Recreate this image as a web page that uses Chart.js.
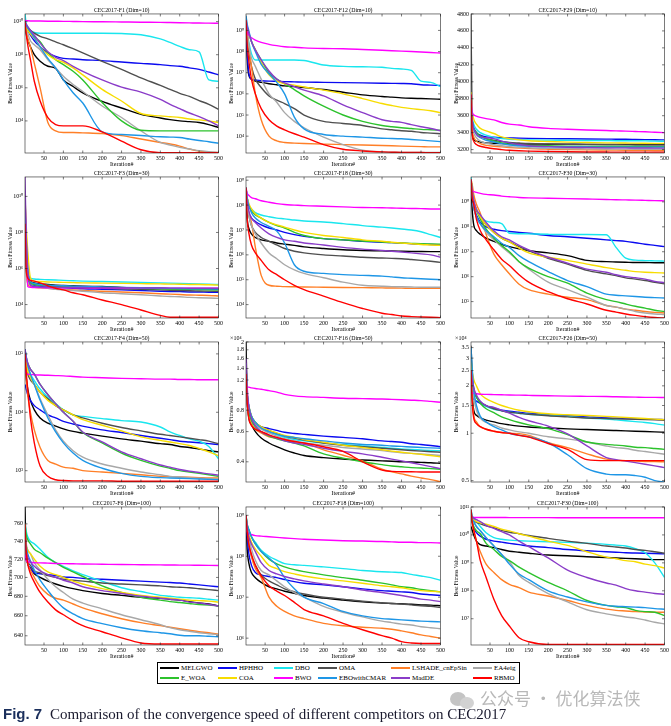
<!DOCTYPE html>
<html>
<head>
<meta charset="utf-8">
<script src="https://cdn.jsdelivr.net/npm/chart.js@4.4.0/dist/chart.umd.min.js"></script>
<style>
  body { margin: 0; background: #fff; width: 671px; height: 726px; position: relative; overflow: hidden; }
  canvas.panel { position: absolute; }
  #legend { position: absolute; left: 157px; top: 662px; width: 363px; height: 22px; border: 0.8px solid #000; box-sizing: border-box; background: #fff;
            font-family: 'Liberation Serif', 'Times New Roman', serif; font-size: 7px; color: #000; }
  .lg-item { position: absolute; height: 10px; line-height: 10px; white-space: nowrap; }
  .lg-line { position: absolute; top: 4px; width: 19px; height: 2px; }
  .lg-text { position: absolute; left: 21px; top: 0; }
  #mark { position: absolute; left: 450px; top: 687px; height: 22px; color: #b8b8b8; font-family: 'Noto Sans CJK SC', sans-serif; font-size: 17px; line-height: 22px; white-space: nowrap; }
  #mark .ico { display: inline-block; position: relative; width: 26px; height: 20px; vertical-align: middle; margin-right: 4px; }
  #mark .ico span { position: absolute; border-radius: 50%; background: #c4c4c4; }
  #caption { position: absolute; left: 3px; top: 705px; white-space: nowrap; font-family: 'Liberation Serif', 'Times New Roman', serif; font-size: 15px; color: #1a1a2e; }
  #caption b { font-family: 'Liberation Sans', Arial, sans-serif; font-weight: bold; color: #1b2f5c; margin-right: 4px; }
</style>
</head>
<body>
<div id="charts"></div>
<div id="legend"></div>
<div id="mark"><span class="ico"><span style="left:0;top:2px;width:16px;height:14px"></span><span style="left:10px;top:7px;width:14px;height:12px;background:#d2d2d2"></span></span>公众号 · 优化算法侠</div>
<div id="caption"><b>Fig. 7</b> Comparison of the convergence speed of different competitors on CEC2017</div>
<script>
// iteration samples
const iterations = [1, 4, 8, 15, 25, 40, 60, 80, 100, 125, 150, 200, 250, 300, 350, 375, 400, 425, 450, 475, 500];
const xTicks = [50, 100, 150, 200, 250, 300, 350, 400, 450, 500];

const algorithms = ['MELGWO', 'HPHHO', 'DBO', 'OMA', 'LSHADE_cnEpSin', 'EA4eig',
                    'E_WOA', 'COA', 'BWO', 'EBOwithCMAR', 'MadDE', 'RBMO'];
const colors = ['#000000', '#0a0af0', '#19e6ee', '#4f4f4f', '#ff7f27', '#a8a8a8',
                '#2cc22c', '#f7dc00', '#ff00ff', '#1e96e6', '#8a3cc8', '#ff0000'];

// CEC2017-F1 (Dim=10)
const f1d10 = [
  [1e10, 2e9, 8e8, 3e8, 1e8, 4e7, 2e7, 1.5e7, 3e6, 1.2e6, 5e5, 1.5e5, 6e4, 2.5e4, 1.5e4, 1.2e4, 1e4, 9e3, 8e3, 6e3, 4e3],
  [1e10, 5e9, 3e9, 1.5e9, 7e8, 3e8, 1.3e8, 8e7, 6e7, 5.5e7, 5e7, 4.4e7, 3.6e7, 3e7, 2.5e7, 2.2e7, 2e7, 1.6e7, 1.3e7, 9e6, 6e6],
  [2.9e10, 8e9, 5e9, 3e9, 2.2e9, 2e9, 2e9, 2e9, 2e9, 2e9, 2e9, 2e9, 1.9e9, 1.6e9, 9e8, 5.5e8, 3.2e8, 2e8, 1.5e8, 3e6, 2.5e6],
  [1e10, 6e9, 4e9, 3e9, 2e9, 1.3e9, 9e8, 6e8, 4e8, 2.3e8, 1.3e8, 4e7, 1.3e7, 4e6, 1.4e6, 8e5, 4.6e5, 3e5, 1.7e5, 1e5, 5e4],
  [1e10, 3e9, 1e9, 3e8, 3e7, 1e6, 8e3, 2.5e3, 2e3, 2e3, 1.9e3, 1.7e3, 1.3e3, 8e2, 5e2, 4e2, 3e2, 2e2, 1.5e2, 1.3e2, 1.2e2],
  [1e10, 5e9, 2e9, 7e8, 4e8, 2e8, 5e7, 1.6e7, 5e6, 1.6e6, 6e5, 8e4, 1.6e4, 2.5e3, 5e2, 3.5e2, 2.5e2, 2e2, 1.6e2, 1.4e2, 1.25e2],
  [1e10, 6e9, 3.5e9, 2e9, 1.2e9, 6e8, 1.3e8, 5e7, 2.5e7, 1e7, 3e6, 1.3e5, 1e4, 2.7e3, 2.5e3, 2.5e3, 2.5e3, 2.5e3, 2.5e3, 2.5e3, 2.5e3],
  [1e10, 5e9, 3e9, 1.8e9, 1e9, 3e8, 1e8, 5e7, 3.5e7, 1.6e7, 6e6, 8e5, 1.6e5, 2.8e4, 2e4, 1.8e4, 1.6e4, 1.3e4, 1.15e4, 1e4, 8e3],
  [1.2e10, 1.15e10, 1.12e10, 1.1e10, 1.1e10, 1.08e10, 1.06e10, 1.05e10, 1.04e10, 1.02e10, 1e10, 9.8e9, 9.5e9, 9.2e9, 9e9, 8.8e9, 8.6e9, 8.4e9, 8.2e9, 8.1e9, 8e9],
  [1e10, 6e9, 4e9, 2.5e9, 1e9, 3e8, 6e7, 1.6e7, 3e6, 5e5, 1.2e5, 2.2e3, 1.5e3, 1.3e3, 1.1e3, 1.05e3, 1e3, 8e2, 6.5e2, 5.5e2, 4.5e2],
  [1e10, 7e9, 5e9, 3e9, 1.5e9, 5e8, 1.5e8, 7e7, 4.4e7, 2e7, 1e7, 3e6, 1.1e6, 5.5e5, 2e5, 1e5, 5.5e4, 3e4, 1.8e4, 1e4, 5e3],
  [1e10, 2e9, 4e8, 5e7, 2.5e6, 1.6e5, 1.6e4, 6e3, 5e3, 5e3, 5e3, 2.2e3, 6e2, 1.8e2, 1.2e2, 1.2e2, 1.2e2, 1.2e2, 1.2e2, 1.2e2, 1.2e2]
];

// CEC2017-F12 (Dim=10)
const f12d10 = [
  [2e9, 5e7, 8e6, 5e6, 4e6, 3.5e6, 3e6, 2.7e6, 2.4e6, 2.2e6, 2e6, 1.6e6, 1.2e6, 9e5, 7.5e5, 7e5, 6.5e5, 6.2e5, 6e5, 5.8e5, 5.6e5],
  [1e9, 1e8, 1e7, 5e6, 4.5e6, 4.2e6, 4e6, 3.9e6, 3.8e6, 3.7e6, 3.6e6, 3.5e6, 3.4e6, 3.3e6, 3.2e6, 3.15e6, 3.1e6, 3e6, 2.7e6, 2.6e6, 2.5e6],
  [3e9, 1e9, 3e8, 8e7, 4e7, 4e7, 4e7, 4e7, 4e7, 4e7, 3.8e7, 2.3e7, 2e7, 1.9e7, 1.8e7, 1.6e7, 1.5e7, 1.3e7, 4e6, 3.5e6, 2.2e6],
  [2e9, 5e8, 1e8, 2e7, 5e6, 2e6, 8e5, 5e5, 3.5e5, 2e5, 1e5, 5e4, 4e4, 3.2e4, 2.2e4, 2e4, 1.8e4, 1.7e4, 1.5e4, 1.4e4, 1.3e4],
  [3e9, 1e9, 2e8, 2e7, 1e6, 6e4, 1e4, 6e3, 5e3, 4.7e3, 4.5e3, 4.2e3, 4e3, 3.8e3, 3.6e3, 3.5e3, 3.4e3, 3.3e3, 3.2e3, 3.1e3, 3.1e3],
  [5e9, 1e9, 2e8, 5e7, 2e7, 5e6, 1e6, 4e5, 1.3e5, 5e4, 2.5e4, 9e3, 4e3, 2.2e3, 1.8e3, 1.75e3, 1.7e3, 1.7e3, 1.7e3, 1.7e3, 1.7e3],
  [3e9, 1.5e9, 8e8, 3e8, 1.2e8, 4e7, 1e7, 5e6, 3e6, 1.6e6, 8e5, 2.6e5, 1e5, 5e4, 3.2e4, 2.8e4, 2.5e4, 2.3e4, 2.1e4, 2e4, 1.9e4],
  [3e9, 1.5e9, 7e8, 3e8, 1.2e8, 3e7, 8e6, 4e6, 3e6, 2.6e6, 2.1e6, 1.5e6, 1e6, 6e5, 3.5e5, 2.8e5, 2.3e5, 2e5, 1.8e5, 1.6e5, 1.3e5],
  [1.5e9, 8e8, 6e8, 4.5e8, 3.5e8, 2.7e8, 2.2e8, 1.9e8, 1.7e8, 1.6e8, 1.5e8, 1.4e8, 1.35e8, 1.25e8, 1.15e8, 1.1e8, 1.05e8, 1e8, 9.5e7, 9e7, 8.5e7],
  [5e9, 2e9, 1e9, 3e8, 1e8, 2.5e7, 9e6, 3.5e6, 1e6, 8e4, 2.2e4, 1.2e4, 1e4, 9e3, 8e3, 7.8e3, 7.5e3, 7e3, 6.5e3, 6e3, 5.5e3],
  [3e9, 1.5e9, 8e8, 3e8, 1.2e8, 4e7, 1.2e7, 5e6, 3.3e6, 2.2e6, 1.5e6, 8e5, 3e5, 1.3e5, 6e4, 5e4, 4.5e4, 3.5e4, 2.8e4, 2.3e4, 1.8e4],
  [3e9, 2e8, 4e7, 5e6, 1e6, 2e5, 6e4, 3e4, 2e4, 1.3e4, 9e3, 4e3, 2.4e3, 2e3, 1.8e3, 1.75e3, 1.7e3, 1.7e3, 1.7e3, 1.65e3, 1.65e3]
];

// CEC2017-F29 (Dim=10)
const f29d10 = [
  [3750, 3400, 3320, 3300, 3290, 3280, 3275, 3270, 3268, 3266, 3265, 3264, 3263, 3262, 3262, 3262, 3262, 3262, 3262, 3262, 3262],
  [3750, 3550, 3450, 3400, 3370, 3350, 3345, 3340, 3338, 3335, 3333, 3330, 3328, 3326, 3324, 3323, 3322, 3320, 3318, 3316, 3315],
  [3800, 3600, 3500, 3440, 3400, 3370, 3345, 3330, 3322, 3318, 3315, 3312, 3310, 3308, 3306, 3305, 3305, 3304, 3303, 3300, 3298],
  [4800, 3550, 3450, 3400, 3360, 3330, 3310, 3295, 3285, 3278, 3272, 3266, 3262, 3260, 3258, 3257, 3256, 3255, 3255, 3254, 3254],
  [3780, 3450, 3350, 3300, 3270, 3250, 3240, 3232, 3225, 3218, 3212, 3205, 3200, 3197, 3195, 3194, 3193, 3192, 3191, 3190, 3190],
  [3780, 3500, 3400, 3340, 3300, 3275, 3258, 3245, 3235, 3228, 3222, 3215, 3211, 3209, 3207, 3206, 3206, 3205, 3205, 3204, 3204],
  [3800, 3550, 3450, 3400, 3360, 3330, 3300, 3280, 3265, 3255, 3250, 3245, 3240, 3238, 3237, 3236, 3236, 3236, 3236, 3235, 3235],
  [3880, 3650, 3560, 3500, 3450, 3420, 3390, 3350, 3330, 3315, 3305, 3295, 3288, 3284, 3280, 3279, 3278, 3276, 3275, 3274, 3273],
  [3850, 3650, 3610, 3595, 3580, 3565, 3550, 3520, 3500, 3490, 3470, 3450, 3440, 3432, 3425, 3421, 3418, 3414, 3410, 3405, 3400],
  [3800, 3550, 3450, 3380, 3340, 3310, 3290, 3270, 3255, 3245, 3238, 3233, 3231, 3230, 3229, 3229, 3229, 3229, 3229, 3229, 3229],
  [3750, 3550, 3450, 3380, 3350, 3340, 3330, 3300, 3280, 3260, 3245, 3235, 3228, 3224, 3221, 3220, 3220, 3219, 3219, 3218, 3218],
  [3850, 3400, 3300, 3260, 3240, 3225, 3210, 3200, 3192, 3186, 3182, 3177, 3174, 3172, 3171, 3170, 3170, 3170, 3170, 3170, 3170]
];

// CEC2017-F3 (Dim=30)
const f3d30 = [
  [3e9, 3e6, 4e5, 2e5, 1.6e5, 1.4e5, 1.3e5, 1.2e5, 1.15e5, 1.1e5, 1.05e5, 1e5, 9e4, 8.5e4, 8e4, 7.7e4, 7.5e4, 7.3e4, 7.2e4, 7e4, 7e4],
  [5e9, 2e6, 3e5, 1.3e5, 1.1e5, 1e5, 9.5e4, 9e4, 8.5e4, 8e4, 7.5e4, 7e4, 6.5e4, 6e4, 5.5e4, 5.3e4, 5.2e4, 5e4, 5e4, 4.8e4, 4.8e4],
  [1e10, 1e8, 1e6, 3e5, 2.6e5, 2.5e5, 2.4e5, 2.3e5, 2.2e5, 2.1e5, 2e5, 1.9e5, 1.8e5, 1.7e5, 1.6e5, 1.55e5, 1.5e5, 1.45e5, 1.4e5, 1.35e5, 1.3e5],
  [5e9, 1e7, 5e5, 1.8e5, 1.4e5, 1.2e5, 1.1e5, 1e5, 9.5e4, 9e4, 8.5e4, 8e4, 7.5e4, 7e4, 6.5e4, 6.2e4, 6e4, 5.8e4, 5.7e4, 5.6e4, 5.5e4],
  [3e9, 1e6, 1.5e5, 1e5, 9e4, 8.5e4, 8e4, 7.5e4, 7e4, 6.5e4, 6e4, 5.5e4, 5e4, 4.5e4, 4e4, 3.8e4, 3.6e4, 3.4e4, 3.3e4, 3.2e4, 3e4],
  [3e9, 2e6, 2e5, 1.2e5, 1e5, 9e4, 8e4, 7e4, 6.5e4, 6e4, 5.5e4, 4.5e4, 4e4, 3.5e4, 3e4, 2.8e4, 2.7e4, 2.5e4, 2.4e4, 2.3e4, 2.2e4],
  [5e9, 5e6, 4e5, 1.6e5, 1.3e5, 1.2e5, 1.15e5, 1.1e5, 1.05e5, 1e5, 9.5e4, 9e4, 8.5e4, 8e4, 7.5e4, 7.3e4, 7.2e4, 7e4, 6.8e4, 6.7e4, 6.5e4],
  [1e10, 3e8, 1e7, 3e5, 2e5, 1.9e5, 1.8e5, 1.75e5, 1.7e5, 1.65e5, 1.6e5, 1.55e5, 1.5e5, 1.45e5, 1.4e5, 1.37e5, 1.35e5, 1.3e5, 1.3e5, 1.25e5, 1.2e5],
  [1e10, 5e7, 1e5, 9e4, 8.8e4, 8.7e4, 8.6e4, 8.5e4, 8.5e4, 8.4e4, 8.4e4, 8.3e4, 8.3e4, 8.2e4, 8.2e4, 8.1e4, 8.1e4, 8.1e4, 8e4, 8e4, 8e4],
  [2e9, 5e7, 1e6, 2e5, 1.5e5, 1.3e5, 1.2e5, 1.15e5, 1.1e5, 1.05e5, 1e5, 9.5e4, 9e4, 8.5e4, 8e4, 7.9e4, 7.8e4, 7.6e4, 7.5e4, 7.4e4, 7.3e4],
  [1.2e11, 1e8, 1e6, 1.2e5, 1e5, 9.5e4, 9.3e4, 9.1e4, 9e4, 8.9e4, 8.8e4, 8.6e4, 8.5e4, 8.4e4, 8.3e4, 8.2e4, 8.2e4, 8.1e4, 8.1e4, 8e4, 8e4],
  [3e8, 1e6, 3e5, 2.2e5, 2e5, 1.6e5, 1.1e5, 8e4, 6.5e4, 4.5e4, 3.5e4, 1.8e4, 1e4, 5e3, 2.5e3, 2e3, 2e3, 2e3, 2e3, 2e3, 2e3]
];

// CEC2017-F18 (Dim=30)
const f18d30 = [
  [5e8, 3e7, 1.2e7, 7e6, 5e6, 4e6, 3.5e6, 3e6, 2.7e6, 2.4e6, 2.1e6, 1.8e6, 1.6e6, 1.5e6, 1.45e6, 1.42e6, 1.4e6, 1.38e6, 1.36e6, 1.35e6, 1.35e6],
  [5e8, 1e8, 5e7, 3e7, 2.2e7, 1.6e7, 1.2e7, 1e7, 8e6, 6.5e6, 5.5e6, 4.5e6, 4e6, 3.5e6, 3.2e6, 3.1e6, 3e6, 2.8e6, 2.7e6, 2.6e6, 2.5e6],
  [5e8, 2e8, 1e8, 7e7, 5e7, 4e7, 3.4e7, 3e7, 2.8e7, 2.5e7, 2.3e7, 2.1e7, 1.8e7, 1.5e7, 1.3e7, 1.2e7, 1.1e7, 1e7, 8.5e6, 6.5e6, 5e6],
  [5e8, 1e8, 4e7, 1.5e7, 8e6, 5e6, 3.5e6, 2.5e6, 1.8e6, 1.4e6, 1.2e6, 1e6, 9e5, 8e5, 7.5e5, 7.2e5, 7e5, 6.5e5, 6e5, 5.5e5, 5e5],
  [5e8, 2e8, 5e7, 2e7, 2e6, 1.5e5, 6e4, 5.5e4, 5.3e4, 5.2e4, 5.1e4, 5e4, 4.9e4, 4.8e4, 4.7e4, 4.65e4, 4.6e4, 4.5e4, 4.5e4, 4.5e4, 4.5e4],
  [5e8, 1e8, 4e7, 1.5e7, 7e6, 3e6, 1.2e6, 7e5, 4e5, 2.5e5, 1.8e5, 1.2e5, 8e4, 6e4, 5.5e4, 5.3e4, 5.2e4, 5.1e4, 5e4, 5e4, 5e4],
  [5e8, 2e8, 1e8, 6e7, 4e7, 3e7, 2e7, 1.5e7, 1.2e7, 8e6, 6e6, 4.5e6, 4e6, 3.6e6, 3.3e6, 3.1e6, 3e6, 2.9e6, 2.8e6, 2.75e6, 2.7e6],
  [5e8, 2e8, 1.2e8, 7e7, 4.5e7, 3e7, 2e7, 1.6e7, 1.3e7, 1e7, 8e6, 6e6, 5e6, 4e6, 3.5e6, 3.2e6, 3e6, 2.8e6, 2.6e6, 2.5e6, 2.4e6],
  [5e8, 3e8, 2.5e8, 2e8, 1.8e8, 1.5e8, 1.3e8, 1.15e8, 1.05e8, 1e8, 9.5e7, 9e7, 8.5e7, 8e7, 7.8e7, 7.6e7, 7.5e7, 7.3e7, 7.2e7, 7e7, 7e7],
  [5e8, 2e8, 1e8, 5e7, 3e7, 2e7, 1.4e7, 9e6, 3e6, 4e5, 2.2e5, 1.8e5, 1.6e5, 1.5e5, 1.4e5, 1.3e5, 1.2e5, 1.15e5, 1.1e5, 1.05e5, 1e5],
  [5e8, 1.5e8, 6e7, 3e7, 2e7, 1.2e7, 7e6, 5e6, 4e6, 3.5e6, 3e6, 2.5e6, 2e6, 1.7e6, 1.5e6, 1.4e6, 1.3e6, 1.2e6, 1.1e6, 1e6, 8e5],
  [5e8, 3e7, 8e6, 2.5e6, 1.2e6, 6e5, 2.5e5, 1.6e5, 1e5, 6e4, 4e4, 2.2e4, 1.2e4, 7e3, 4.5e3, 4e3, 3.5e3, 3.3e3, 3.2e3, 3.1e3, 3e3]
];

// CEC2017-F30 (Dim=30)
const f30d30 = [
  [5e9, 5e8, 1.2e8, 7e7, 5e7, 3.5e7, 2.6e7, 2e7, 1.6e7, 1.3e7, 1.1e7, 9e6, 7e6, 4.5e6, 4e6, 3.9e6, 3.8e6, 3.7e6, 3.7e6, 3.6e6, 3.6e6],
  [8e9, 2e9, 6e8, 3e8, 1.5e8, 1e8, 8e7, 7e7, 6.5e7, 6e7, 5.5e7, 4.5e7, 4e7, 3.5e7, 3e7, 2.8e7, 2.6e7, 2.3e7, 2e7, 1.8e7, 1.6e7],
  [1e10, 3e9, 1e9, 5e8, 2.5e8, 1.7e8, 1.5e8, 1.35e8, 5.5e7, 5.3e7, 5.2e7, 5e7, 4.9e7, 4.9e7, 4.8e7, 1.5e7, 5.5e6, 4.6e6, 4.4e6, 4.3e6, 4.2e6],
  [8e9, 3e9, 1.1e9, 4.5e8, 2.5e8, 1.2e8, 6e7, 3.5e7, 2.5e7, 1.6e7, 1.1e7, 5.5e6, 3.2e6, 1.8e6, 1.3e6, 1.1e6, 9e5, 8e5, 7e5, 6e5, 5.2e5],
  [8e9, 5e9, 2e9, 8e8, 3.5e8, 5e7, 8e6, 3e6, 1.3e6, 5e5, 3e5, 2e5, 1.5e5, 1.2e5, 7e4, 6e4, 5e4, 4.5e4, 4e4, 3.7e4, 3.5e4],
  [8e9, 2e9, 6e8, 2.5e8, 1.3e8, 6e7, 3e7, 1.6e7, 9e6, 4e6, 2e6, 6e5, 3e5, 1.5e5, 7e4, 6e4, 5e4, 4e4, 3.5e4, 3.2e4, 3e4],
  [8e9, 3e9, 1e9, 5e8, 2e8, 8e7, 3.5e7, 1.8e7, 1e7, 4e6, 2.2e6, 1e6, 5.5e5, 2.2e5, 1.2e5, 1e5, 8e4, 6.5e4, 5.5e4, 4.5e4, 4e4],
  [8e9, 3e9, 1e9, 5e8, 2.5e8, 1.2e8, 6e7, 3.5e7, 2.5e7, 1.4e7, 9e6, 6e6, 4.5e6, 3.2e6, 2.3e6, 2e6, 1.8e6, 1.6e6, 1.5e6, 1.45e6, 1.4e6],
  [3e9, 2.8e9, 2.6e9, 2.4e9, 2.2e9, 2e9, 1.9e9, 1.7e9, 1.6e9, 1.5e9, 1.45e9, 1.4e9, 1.35e9, 1.3e9, 1.25e9, 1.22e9, 1.2e9, 1.18e9, 1.15e9, 1.12e9, 1.1e9],
  [8e9, 2e9, 6e8, 2.5e8, 1.3e8, 7e7, 4e7, 2.2e7, 1.5e7, 7e6, 4e6, 1.6e6, 7e5, 4e5, 2e5, 1.8e5, 1.7e5, 1.6e5, 1.5e5, 1.45e5, 1.4e5],
  [8e9, 3e9, 1.2e9, 5e8, 3e8, 1.5e8, 7e7, 4e7, 3e7, 1.8e7, 1.2e7, 6e6, 3.5e6, 2e6, 1.5e6, 1.2e6, 1e6, 9e5, 8e5, 6.5e5, 5.8e5],
  [8e9, 1.5e9, 8e8, 2e8, 7e7, 3e7, 1.2e7, 5e6, 2.8e6, 1.2e6, 6e5, 2.5e5, 1.3e5, 8e4, 4.5e4, 3.8e4, 3.2e4, 2.8e4, 2.5e4, 2.3e4, 2.2e4]
];

// CEC2017-F4 (Dim=50)
const f4d50 = [
  [8e4, 4e4, 2.5e4, 1.6e4, 1.1e4, 8e3, 6.5e3, 5.8e3, 5.2e3, 4.7e3, 4.4e3, 3.9e3, 3.5e3, 3.2e3, 2.9e3, 2.8e3, 2.6e3, 2.5e3, 2.35e3, 2.2e3, 2.1e3],
  [3e4, 2.5e4, 2e4, 1.6e4, 1.3e4, 1.1e4, 9e3, 8e3, 7e3, 6.3e3, 5.8e3, 5e3, 4.5e3, 4e3, 3.6e3, 3.4e3, 3.2e3, 3.1e3, 3e3, 2.9e3, 2.8e3],
  [1.2e5, 8e4, 6e4, 4.5e4, 3.5e4, 2.5e4, 1.8e4, 1.4e4, 1.1e4, 9e3, 8.5e3, 7.8e3, 7.2e3, 6.8e3, 5.6e3, 4.6e3, 4e3, 3.5e3, 3.2e3, 2.6e3, 1.6e3],
  [1e5, 6e4, 4.5e4, 3.6e4, 3e4, 2.2e4, 1.7e4, 1.3e4, 1.1e4, 9e3, 8e3, 6.5e3, 5.5e3, 4.8e3, 4.2e3, 4e3, 3.8e3, 3.6e3, 3.4e3, 3.2e3, 2.9e3],
  [8e4, 4e4, 2e4, 1e4, 5e3, 2.5e3, 1.5e3, 1.3e3, 1.15e3, 1.1e3, 1e3, 9.5e2, 9e2, 8.5e2, 8e2, 7.9e2, 7.8e2, 7.7e2, 7.6e2, 7.5e2, 7.5e2],
  [1.2e5, 8e4, 6e4, 4e4, 3e4, 1.7e4, 9e3, 5e3, 3.2e3, 2.2e3, 1.7e3, 1.3e3, 1.1e3, 9.5e2, 8.5e2, 8e2, 7.8e2, 7.6e2, 7.4e2, 7.3e2, 7.2e2],
  [1.2e5, 9e4, 7e4, 5.5e4, 4.5e4, 3e4, 2e4, 1.4e4, 1e4, 7e3, 4.5e3, 3e3, 2e3, 1.5e3, 1.2e3, 1.1e3, 1e3, 9.5e2, 9e2, 8.5e2, 8e2],
  [1e5, 7e4, 5e4, 4e4, 3e4, 2.2e4, 1.6e4, 1.3e4, 1.1e4, 9e3, 7.5e3, 6e3, 4.8e3, 3.8e3, 3.3e3, 3.1e3, 2.9e3, 2.7e3, 2.4e3, 2.1e3, 1.8e3],
  [5.5e4, 4.6e4, 4.5e4, 4.45e4, 4.4e4, 4.35e4, 4.3e4, 4.25e4, 4.2e4, 4.1e4, 4e4, 3.9e4, 3.8e4, 3.75e4, 3.7e4, 3.7e4, 3.65e4, 3.65e4, 3.6e4, 3.6e4, 3.6e4],
  [1.2e5, 9e4, 6.5e4, 4.5e4, 3e4, 1.6e4, 8e3, 4.6e3, 3e3, 2e3, 1.5e3, 1.1e3, 9e2, 8e2, 7.6e2, 7.5e2, 7.4e2, 7.3e2, 7.2e2, 7.1e2, 7e2],
  [1.2e5, 9e4, 7e4, 5.5e4, 4.5e4, 3e4, 2e4, 1.4e4, 1e4, 7e3, 4.6e3, 3.1e3, 2.1e3, 1.6e3, 1.25e3, 1.15e3, 1.05e3, 9.8e2, 9.3e2, 8.8e2, 8.4e2],
  [1e5, 5e4, 2.5e4, 8e3, 3e3, 1.2e3, 8e2, 7e2, 6.8e2, 6.7e2, 6.7e2, 6.7e2, 6.6e2, 6.6e2, 6.6e2, 6.6e2, 6.6e2, 6.6e2, 6.6e2, 6.6e2, 6.6e2]
];

// CEC2017-F16 (Dim=50)
const f16d50 = [
  [20000, 9500, 7300, 6600, 6000, 5500, 5150, 4900, 4700, 4500, 4350, 4230, 4150, 4100, 4050, 4030, 4000, 3990, 3970, 3950, 3920],
  [14000, 9000, 7800, 7000, 6600, 6400, 6250, 6100, 5950, 5850, 5780, 5650, 5550, 5450, 5300, 5250, 5200, 5100, 5050, 4980, 4900],
  [14000, 10000, 8500, 7300, 6700, 6300, 6000, 5750, 5550, 5400, 5300, 5150, 5050, 4950, 4850, 4800, 4760, 4720, 4690, 4660, 4640],
  [15000, 10000, 8500, 7400, 6800, 6400, 6100, 5850, 5650, 5500, 5350, 5150, 5000, 4900, 4800, 4750, 4700, 4660, 4620, 4580, 4550],
  [14000, 9000, 7500, 6700, 6200, 5900, 5600, 5500, 5380, 5250, 5140, 4700, 4370, 4050, 3620, 3500, 3400, 3300, 3220, 3150, 3060],
  [15000, 10000, 8300, 7200, 6600, 6200, 5900, 5650, 5450, 5300, 5150, 5000, 4850, 4750, 4650, 4580, 4520, 4480, 4440, 4400, 4360],
  [15000, 10000, 8000, 7000, 6400, 6000, 5650, 5450, 5300, 5150, 4950, 4450, 4200, 4000, 3850, 3780, 3740, 3700, 3680, 3650, 3620],
  [14000, 10000, 8500, 7400, 6800, 6400, 6100, 5900, 5700, 5550, 5400, 5200, 5000, 4850, 4700, 4620, 4550, 4480, 4420, 4350, 4280],
  [11000, 10900, 10900, 10800, 10700, 10600, 10400, 10200, 9900, 9700, 9600, 9500, 9400, 9350, 9300, 9250, 9200, 9150, 9100, 9000, 8900],
  [15000, 10000, 8500, 7400, 6800, 6300, 6000, 5800, 5650, 5550, 5450, 5300, 5150, 5050, 5000, 4950, 4920, 4880, 4850, 4820, 4800],
  [16000, 11000, 8500, 7200, 6500, 6000, 5700, 5500, 5300, 5150, 5050, 4800, 4600, 4450, 4250, 4150, 4050, 3950, 3850, 3750, 3650],
  [13000, 9000, 7200, 6500, 6200, 6000, 5750, 5550, 5400, 5250, 5150, 4900, 4600, 4000, 3580, 3520, 3500, 3500, 3490, 3490, 3490]
];

// CEC2017-F26 (Dim=50)
const f26d50 = [
  [28000, 18000, 14000, 13000, 12500, 12100, 11800, 11500, 11300, 11100, 10950, 10800, 10650, 10550, 10450, 10400, 10350, 10300, 10250, 10200, 10150],
  [22000, 18000, 16500, 16000, 15500, 14900, 14400, 14000, 13800, 13600, 13400, 13100, 12900, 12700, 12500, 12450, 12400, 12350, 12300, 12250, 12200],
  [30000, 24000, 19000, 17000, 15700, 14800, 14200, 13900, 13600, 13400, 13200, 13000, 12800, 12500, 12300, 12150, 12000, 11850, 11700, 11500, 11250],
  [36000, 25000, 19000, 17000, 15800, 15000, 14300, 13900, 13600, 13400, 13200, 12900, 12700, 12500, 12400, 12350, 12300, 12250, 12200, 12150, 12100],
  [25000, 17000, 13000, 11800, 11000, 10600, 10300, 10100, 10000, 9950, 9700, 8700, 8100, 7400, 6850, 6750, 6700, 6650, 6620, 6600, 6580],
  [28000, 22000, 17000, 14000, 12500, 11700, 11300, 10800, 10500, 10200, 10000, 9500, 9200, 8800, 8300, 8100, 8000, 7800, 7650, 7500, 7350],
  [25000, 21000, 19000, 17000, 15500, 14300, 13500, 12700, 12200, 11700, 11300, 10700, 9800, 8800, 8500, 8400, 8300, 8150, 8100, 8000, 7900],
  [30000, 25000, 22000, 20000, 17800, 16600, 15700, 15000, 14500, 14000, 13700, 13300, 13100, 12950, 12800, 12700, 12600, 12500, 12400, 12300, 12200],
  [18000, 18000, 17900, 17800, 17700, 17650, 17600, 17550, 17500, 17450, 17400, 17300, 17200, 17150, 17100, 17050, 17000, 16950, 16900, 16900, 16850],
  [35000, 26000, 19000, 15000, 12800, 11800, 11000, 10500, 10000, 9700, 9500, 8700, 7300, 5950, 5500, 5450, 5450, 5380, 5250, 5000, 4900],
  [25000, 22000, 19500, 17500, 16000, 15000, 14600, 14000, 13400, 12600, 12000, 11100, 9900, 8300, 7000, 6800, 6650, 6500, 6350, 6200, 6050],
  [25000, 16000, 12500, 11500, 11000, 10600, 10300, 10100, 10000, 9700, 9450, 8600, 7900, 6800, 6700, 6700, 6700, 6700, 6700, 6700, 6700]
];

// CEC2017-F6 (Dim=100)
const f6d100 = [
  [780, 728, 715, 710, 704, 700, 696, 693, 690.5, 688, 686, 683, 681, 679, 678, 677, 676, 674.5, 673, 672, 670],
  [740, 725, 715, 710, 705, 704, 703, 702, 700.5, 700, 699, 698, 697, 696, 695, 694.5, 694, 693, 692, 691, 690],
  [760, 752, 745, 740, 737, 731, 722, 716, 712, 707, 703, 696, 689, 685, 681, 680, 679, 678.5, 678, 677, 676],
  [750, 730, 718, 713, 707, 705, 702, 700, 698, 697, 696, 694, 693, 692, 691, 690, 689.5, 689, 688, 687, 686],
  [735, 725, 715, 708, 700, 690, 682, 678, 676, 672, 668, 662, 657, 653, 650, 648.5, 647, 645.5, 644, 643, 641.5],
  [750, 738, 730, 726, 716, 708, 698, 690, 684, 677, 673, 667, 661, 656, 651, 648, 646, 644.5, 643, 642, 641],
  [760, 748, 742, 737, 731, 727, 721, 716, 711, 706, 701, 691, 684, 679, 676, 674.5, 673.5, 672.5, 671.5, 671, 670],
  [740, 735, 730, 726, 720, 712, 706, 703, 700, 696, 693, 688, 684, 681, 679, 678, 677, 676, 675.5, 675, 674],
  [725, 718, 717, 716.5, 716, 715.8, 715.5, 715.2, 715, 714.8, 714.6, 714.3, 714, 713.8, 713.6, 713.5, 713.4, 713.3, 713.2, 713.1, 713],
  [745, 735, 726, 718, 708, 697, 686, 676, 668, 662, 657, 652, 648, 645, 643, 642, 640.5, 640, 640, 639.5, 639],
  [735, 728, 722, 717, 712, 707, 703, 700, 697, 694, 690, 686, 683, 680, 678, 677, 676, 674, 673, 671.5, 670],
  [760, 730, 715, 704, 695, 684, 674, 666, 661, 655, 650, 644, 638, 633, 632, 632, 632, 632, 632, 632, 632]
];

// CEC2017-F18 (Dim=100)
const f18d100 = [
  [1e9, 1.5e8, 7e7, 4e7, 3e7, 2.3e7, 1.8e7, 1.6e7, 1.4e7, 1.25e7, 1.1e7, 9.5e6, 8.5e6, 7.7e6, 7.2e6, 7e6, 6.9e6, 6.7e6, 6.5e6, 6.4e6, 6.2e6],
  [8e8, 3e8, 1.2e8, 6e7, 4e7, 3.5e7, 3.2e7, 3e7, 2.7e7, 2.4e7, 2.2e7, 2e7, 1.8e7, 1.6e7, 1.45e7, 1.4e7, 1.35e7, 1.3e7, 1.2e7, 1.15e7, 1.1e7],
  [1e9, 6e8, 4.5e8, 3e8, 2.2e8, 1.4e8, 1e8, 8e7, 6.6e7, 6.2e7, 6e7, 5.5e7, 5e7, 4.5e7, 4.2e7, 4.1e7, 4e7, 3.6e7, 3.3e7, 3e7, 2.6e7],
  [1e9, 4e8, 2e8, 1e8, 6e7, 3.5e7, 2.5e7, 2e7, 1.6e7, 1.35e7, 1.2e7, 1e7, 9e6, 8e6, 7.3e6, 7e6, 6.8e6, 6.5e6, 6.2e6, 6e6, 5.6e6],
  [1e9, 5e8, 2.5e8, 1e8, 5e7, 3e7, 1e7, 6e6, 4.5e6, 3.5e6, 3e6, 2.3e6, 2e6, 1.85e6, 1.75e6, 1.65e6, 1.5e6, 1.35e6, 1.2e6, 1.1e6, 1e6],
  [1e9, 5e8, 3e8, 1.5e8, 8e7, 4.5e7, 3.5e7, 2.5e7, 1.8e7, 1.3e7, 1e7, 6e6, 4.3e6, 3.3e6, 2.6e6, 2.4e6, 2.2e6, 2.1e6, 1.9e6, 1.8e6, 1.7e6],
  [1e9, 6e8, 4.5e8, 3e8, 2e8, 1.3e8, 8.5e7, 6.5e7, 5.5e7, 4.7e7, 4.2e7, 3.5e7, 3e7, 2.6e7, 2.2e7, 2e7, 1.8e7, 1.7e7, 1.55e7, 1.45e7, 1.35e7],
  [1e9, 5e8, 3.5e8, 2.2e8, 1.5e8, 1e8, 6e7, 5e7, 4.2e7, 3.7e7, 3.3e7, 2.8e7, 2.5e7, 2.2e7, 1.9e7, 1.8e7, 1.7e7, 1.55e7, 1.45e7, 1.4e7, 1.35e7],
  [5e8, 4e8, 3.6e8, 3.4e8, 3.2e8, 3.1e8, 3e8, 2.9e8, 2.8e8, 2.7e8, 2.6e8, 2.5e8, 2.4e8, 2.35e8, 2.3e8, 2.25e8, 2.2e8, 2.2e8, 2.15e8, 2.15e8, 2.1e8],
  [1e9, 6e8, 4.5e8, 3e8, 2e8, 1.3e8, 9e7, 6e7, 3e7, 1.6e7, 1e7, 7e6, 4.5e6, 3.5e6, 3e6, 2.9e6, 2.8e6, 2.7e6, 2.6e6, 2.55e6, 2.5e6],
  [1e9, 5e8, 3e8, 2e8, 1.3e8, 7e7, 4.5e7, 3.7e7, 3.2e7, 2.8e7, 2.5e7, 2.1e7, 1.8e7, 1.5e7, 1.3e7, 1.2e7, 1.1e7, 1e7, 9e6, 8.5e6, 7.8e6],
  [1e9, 4e8, 2e8, 1.1e8, 6e7, 3.3e7, 1.9e7, 1.4e7, 1.1e7, 7.5e6, 5e6, 3.5e6, 2.3e6, 1.6e6, 1.15e6, 1e6, 8.2e5, 7.6e5, 7.4e5, 7.4e5, 7.4e5]
];

// CEC2017-F30 (Dim=100)
const f30d100 = [
  [2e10, 1.5e10, 1e10, 6e9, 4.5e9, 4e9, 3.5e9, 3e9, 2.6e9, 2.4e9, 2.2e9, 1.9e9, 1.8e9, 1.65e9, 1.55e9, 1.5e9, 1.45e9, 1.4e9, 1.35e9, 1.3e9, 1.3e9],
  [5e10, 3e10, 1.8e10, 1.2e10, 9e9, 7e9, 6e9, 5.5e9, 5e9, 4.5e9, 4e9, 3.5e9, 3e9, 2.7e9, 2.5e9, 2.4e9, 2.3e9, 2.25e9, 2.2e9, 2.15e9, 2.1e9],
  [8e10, 5e10, 4e10, 3e10, 2e10, 1.2e10, 8e9, 7e9, 6.5e9, 6.2e9, 6e9, 5.7e9, 5.4e9, 5.1e9, 4.6e9, 4.3e9, 4e9, 3.2e9, 2.3e9, 1e9, 3e8],
  [5e10, 4e10, 3.3e10, 2.8e10, 2.5e10, 2.1e10, 1.8e10, 1.45e10, 1.25e10, 1.1e10, 9.5e9, 7.5e9, 6e9, 5e9, 4e9, 3.7e9, 3.4e9, 3e9, 2.8e9, 2.5e9, 2.2e9],
  [8e10, 3e10, 1.5e10, 6e9, 2.5e9, 9e8, 4.5e8, 2.5e8, 1.7e8, 1.3e8, 9e7, 6.5e7, 4.5e7, 3e7, 2.2e7, 2e7, 1.9e7, 1.8e7, 1.75e7, 1.7e7, 1.7e7],
  [8e10, 4e10, 3e10, 2e10, 1.4e10, 8e9, 4e9, 2e9, 1.1e9, 3.5e8, 2e8, 8e7, 4e7, 2.1e7, 1.5e7, 1.3e7, 1.15e7, 1.05e7, 9e6, 7.5e6, 6.5e6],
  [5e10, 3e10, 2e10, 1.4e10, 1.1e10, 5e9, 3e9, 1.7e9, 1.2e9, 7e8, 4.5e8, 2e8, 1e8, 4.5e7, 3e7, 2.7e7, 2.5e7, 2e7, 1.8e7, 1.7e7, 1.3e7],
  [5e10, 4e10, 3.5e10, 3e10, 2.7e10, 2.4e10, 2e10, 1.6e10, 1.4e10, 1.1e10, 9e9, 6e9, 4.2e9, 2.5e9, 1.6e9, 1.4e9, 1.2e9, 1.1e9, 9e8, 8e8, 6.5e8],
  [5e10, 4.3e10, 4.2e10, 4.2e10, 4.2e10, 4.2e10, 4.2e10, 4.2e10, 4.15e10, 4.15e10, 4.15e10, 4.15e10, 4.1e10, 4.1e10, 4.1e10, 4.1e10, 4.1e10, 4.1e10, 4.1e10, 4.1e10, 4.1e10],
  [8e10, 4e10, 3e10, 2e10, 1.4e10, 8e9, 4e9, 2e9, 9e8, 4e8, 2.5e8, 1e8, 6e7, 4e7, 3e7, 2.8e7, 2.7e7, 2.6e7, 2.5e7, 2.3e7, 2.2e7],
  [5e10, 4.5e10, 4e10, 3.5e10, 3e10, 2.2e10, 1.7e10, 1.3e10, 1e10, 6e9, 3.8e9, 1.5e9, 5.5e8, 3e8, 1.9e8, 1.6e8, 1.2e8, 1e8, 9e7, 8e7, 7.5e7],
  [8e10, 3e10, 1.5e10, 6e9, 1.2e9, 3e8, 5e7, 1.3e7, 5.5e6, 2.1e6, 1.5e6, 1.2e6, 1.2e6, 1.2e6, 1.2e6, 1.2e6, 1.2e6, 1.2e6, 1.2e6, 1.2e6, 1.2e6]
];

// tick sets
const ticksP3 = [3200, 3400, 3600, 3800, 4000, 4200, 4400, 4600, 4800];
const ticksP8 = [4000, 6000, 8000, 10000, 12000, 14000, 16000, 18000, 20000];
const ticksP9 = [5000, 10000, 15000, 20000, 25000, 30000, 35000];
const ticksP10 = [640, 660, 680, 700, 720, 740, 760];

const panels = [
  { title: 'CEC2017-F1 (Dim=10)',  values: f1d10,  log: true,  min: 115,    max: 2.9e10, yTicks: [1e4, 1e6, 1e8, 1e10], fmt: 'pow' },
  { title: 'CEC2017-F12 (Dim=10)', values: f12d10, log: true,  min: 1.6e3,  max: 6e9,    yTicks: [1e4, 1e5, 1e6, 1e7, 1e8, 1e9], fmt: 'pow' },
  { title: 'CEC2017-F29 (Dim=10)', values: f29d10, log: false, min: 3160,   max: 4800,   yTicks: ticksP3, fmt: 'plain' },
  { title: 'CEC2017-F3 (Dim=30)',  values: f3d30,  log: true,  min: 1.8e3,  max: 1.2e11, yTicks: [1e4, 1e6, 1e8, 1e10], fmt: 'pow' },
  { title: 'CEC2017-F18 (Dim=30)', values: f18d30, log: true,  min: 2.9e3,  max: 1.35e9, yTicks: [1e4, 1e5, 1e6, 1e7, 1e8, 1e9], fmt: 'pow' },
  { title: 'CEC2017-F30 (Dim=30)', values: f30d30, log: true,  min: 2.2e4,  max: 1e10,   yTicks: [1e5, 1e6, 1e7, 1e8, 1e9], fmt: 'pow' },
  { title: 'CEC2017-F4 (Dim=50)',  values: f4d50,  log: true,  min: 640,    max: 1.6e5,  yTicks: [1e3, 1e4, 1e5], fmt: 'pow' },
  { title: 'CEC2017-F16 (Dim=50)', values: f16d50, log: true,  min: 3050,   max: 20000,  yTicks: ticksP8, fmt: 'e4' },
  { title: 'CEC2017-F26 (Dim=50)', values: f26d50, log: true,  min: 4900,   max: 38000,  yTicks: ticksP9, fmt: 'e4' },
  { title: 'CEC2017-F6 (Dim=100)', values: f6d100, log: true,  min: 631,    max: 780,    yTicks: ticksP10, fmt: 'plain' },
  { title: 'CEC2017-F18 (Dim=100)', values: f18d100, log: true, min: 6.8e5, max: 1.6e9,  yTicks: [1e6, 1e7, 1e8, 1e9], fmt: 'pow' },
  { title: 'CEC2017-F30 (Dim=100)', values: f30d100, log: true, min: 1.15e6, max: 1e11,  yTicks: [1e7, 1e8, 1e9, 1e10, 1e11], fmt: 'pow' }
];

// plot-area frame of each subplot (pixels)
const colLeft = [25, 246, 471], colRight = [221, 443, 667];
const rowTop = [14, 177, 342, 507], rowBottom = [153, 318, 482, 645];
const AXIS_W = 25, TITLE_H = 12, XAXIS_H = 20, PAD_R = 4;

const FONT = "'Liberation Serif', 'Times New Roman', serif";
Chart.defaults.font.family = FONT;
Chart.defaults.color = '#000';

const SUP = { '0': '⁰', '1': '¹', '2': '²', '3': '³', '4': '⁴', '5': '⁵', '6': '⁶', '7': '⁷', '8': '⁸', '9': '⁹', '-': '⁻' };
function pow10(v) {
  const e = String(Math.round(Math.log10(v)));
  return '10' + e.split('').map(c => SUP[c]).join('');
}
function formatter(kind) {
  if (kind === 'pow') return v => pow10(v);
  if (kind === 'e4') return v => String(+(v / 1e4).toFixed(2));
  return v => String(v);
}

// box round the plot area + inward tick marks, like MATLAB axes
const boxPlugin = {
  id: 'box',
  afterDraw(chart, args, opts) {
    const { ctx, chartArea: a } = chart;
    const x = chart.scales.x, y = chart.scales.y;
    ctx.save();
    ctx.strokeStyle = '#222';
    ctx.lineWidth = 0.6;
    ctx.strokeRect(a.left, a.top, a.right - a.left, a.bottom - a.top);
    ctx.beginPath();
    x.ticks.forEach(t => {
      const px = x.getPixelForValue(t.value);
      ctx.moveTo(px, a.bottom); ctx.lineTo(px, a.bottom - 2.5);
      ctx.moveTo(px, a.top); ctx.lineTo(px, a.top + 2.5);
    });
    y.ticks.forEach(t => {
      const py = y.getPixelForValue(t.value);
      ctx.moveTo(a.left, py); ctx.lineTo(a.left + 2.5, py);
      ctx.moveTo(a.right, py); ctx.lineTo(a.right - 2.5, py);
    });
    ctx.stroke();
    if (opts && opts.exponent) {
      ctx.fillStyle = '#000';
      ctx.font = '6px ' + FONT;
      ctx.textBaseline = 'bottom';
      ctx.fillText(opts.exponent, a.left - 16, a.top - 1);
    }
    ctx.restore();
  }
};

const holder = document.getElementById('charts');
panels.forEach((p, idx) => {
  const col = idx % 3, row = Math.floor(idx / 3);
  const L = colLeft[col], R = colRight[col], T = rowTop[row], B = rowBottom[row];
  const w = R - L + AXIS_W + PAD_R, h = B - T + TITLE_H + XAXIS_H;
  const cv = document.createElement('canvas');
  cv.className = 'panel';
  cv.width = w; cv.height = h;
  cv.style.left = (L - AXIS_W) + 'px';
  cv.style.top = (T - TITLE_H) + 'px';
  cv.style.width = w + 'px'; cv.style.height = h + 'px';
  holder.appendChild(cv);

  new Chart(cv, {
    type: 'line',
    data: {
      datasets: algorithms.map((name, i) => ({
        label: name,
        data: iterations.map((it, k) => ({ x: it, y: p.values[i][k] })),
        borderColor: colors[i],
        borderWidth: 1.4,
        pointRadius: 0,
        fill: false,
        cubicInterpolationMode: 'monotone',
        order: algorithms.length - i
      }))
    },
    options: {
      responsive: false,
      animation: false,
      layout: { padding: { left: 0, right: PAD_R, top: 0, bottom: 0 } },
      plugins: {
        legend: { display: false },
        tooltip: { enabled: false },
        title: {
          display: true, text: p.title, fullSize: false, color: '#000',
          font: { size: 5.8, weight: 'normal' }, padding: { top: 5, bottom: 0 }
        },
        box: { exponent: p.fmt === 'e4' ? '×10⁴' : null }
      },
      scales: {
        x: {
          type: 'linear', min: 1, max: 500, bounds: 'data',
          afterBuildTicks: ax => { ax.ticks = xTicks.map(v => ({ value: v })); },
          afterFit: s => { s.height = XAXIS_H; },
          grid: { display: false, drawTicks: false },
          border: { display: false },
          ticks: { font: { size: 6 }, color: '#000', padding: 2, maxRotation: 0, autoSkip: false },
          title: { display: true, text: 'Iteration#', color: '#000', font: { size: 6 }, padding: { top: 0, bottom: 5 } }
        },
        y: {
          type: p.log ? 'logarithmic' : 'linear', min: p.min, max: p.max, bounds: 'data',
          afterBuildTicks: ax => { ax.ticks = p.yTicks.map(v => ({ value: v })); },
          afterFit: s => { s.width = AXIS_W; },
          grid: { display: false, drawTicks: false },
          border: { display: false },
          ticks: { callback: formatter(p.fmt), font: { size: 6 }, color: '#000', padding: 2, autoSkip: false },
          title: { display: true, text: 'Best Fitness Value', color: '#000', font: { size: 5.5 }, padding: { top: 7, bottom: 0 } }
        }
      }
    },
    plugins: [boxPlugin]
  });
});

// shared legend, two rows of six
const legendCols = [2, 60, 116, 160, 233, 315];
const legend = document.getElementById('legend');
algorithms.forEach((name, i) => {
  const item = document.createElement('div');
  item.className = 'lg-item';
  item.style.left = legendCols[i % 6] + 'px';
  item.style.top = (i < 6 ? 0 : 10) + 'px';
  item.innerHTML = '<span class="lg-line" style="background:' + colors[i] + '"></span><span class="lg-text">' + name + '</span>';
  legend.appendChild(item);
});
</script>
</body>
</html>
